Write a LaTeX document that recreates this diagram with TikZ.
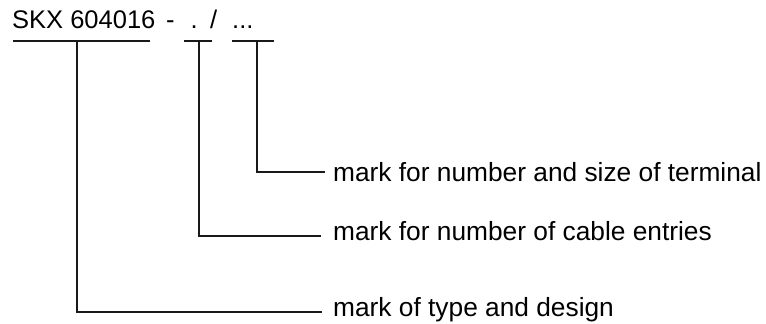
\documentclass[tikz,border=0pt]{standalone}
\usepackage{fontspec}
\setmainfont{Liberation Sans}
\begin{document}
\begin{tikzpicture}[x=1pt,y=-1pt,
  rule/.style={line width=1.5pt, draw=black!90},
  lbl/.style={anchor=base west, inner sep=0pt, font=\fontsize{26.3}{31}\selectfont},
  ttl/.style={anchor=base west, inner sep=0pt, font=\fontsize{25.5}{30}\selectfont}]
\useasboundingbox (0,0) rectangle (766,324);
\node[ttl] (title) at (12,28) {SKX 604016\hspace{10.8pt}-\hspace{16pt}.\hspace{12.4pt}/\hspace{15pt}...};
\node[lbl] (t3) at (333,181) {mark for number and size of terminal};
\node[lbl] (t2) at (333,240) {mark for number of cable entries};
\node[lbl] (t1) at (333,316) {mark of type and design};
% underlines
\coordinate (u1a) at (13,41);  \coordinate (u1b) at (150,41);
\coordinate (u2a) at (184,41); \coordinate (u2b) at (212,41);
\coordinate (u3a) at (232,41); \coordinate (u3b) at (274,41);
\coordinate (v1) at (77,41);   \coordinate (v2) at (199,41);  \coordinate (v3) at (257,41);
\coordinate (e1) at (322,312); \coordinate (e2) at (321,236); \coordinate (e3) at (325,172);
\draw[rule] (u1a) -- (u1b);
\draw[rule] (u2a) -- (u2b);
\draw[rule] (u3a) -- (u3b);
\draw[rule] (v1) |- (e1);
\draw[rule] (v2) |- (e2);
\draw[rule] (v3) |- (e3);
\end{tikzpicture}
\end{document}
